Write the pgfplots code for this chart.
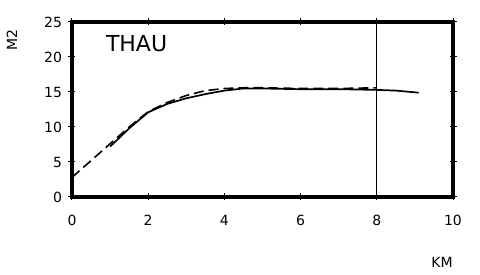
\documentclass[border=0pt]{standalone}
\usepackage{pgfplots}
\pgfplotsset{compat=1.18}
\usepackage{fontspec}
\setmainfont{DejaVu Sans}
\begin{document}
\begin{tikzpicture}[x=1pt,y=1pt]
\begin{axis}[
  at={(0,0)}, anchor=south west,
  scale only axis, width=381pt, height=175pt,
  xmin=0, xmax=10, ymin=0, ymax=25,
  xtick={0,2,...,10}, ytick={0,5,...,25},
  tick align=center, major tick length=7pt,
  axis line style={line width=3.5pt},
  every tick/.style={line width=1pt, black},
  tick label style={font=\fontsize{14}{14}\selectfont},
  /pgf/number format/assume math mode=true,
  xticklabel style={yshift=-11pt},
  yticklabel style={xshift=-3pt},
  clip=false,
]
\draw[line width=3.5pt] (rel axis cs:0,0) rectangle (rel axis cs:1,1);
\addplot[black, line width=1.6pt, dash pattern=on 10pt off 5pt] coordinates {
 (0,2.8) (0.5,5.2) (1,7.6) (1.5,10.0) (2,12.2) (2.5,13.5) (3,14.5) (3.5,15.2) (4,15.5) (4.5,15.6) (5,15.6) (6,15.5) (7,15.5) (8,15.6)};
\addplot[black, line width=1.7pt] coordinates {
 (1,7.2) (1.5,9.8) (2,12.1) (2.5,13.3) (3,14.1) (3.5,14.7) (4,15.2) (4.5,15.5) (5,15.5) (6,15.4) (7,15.4) (8,15.3) (8.5,15.2) (9.1,14.9)};
\addplot[black, line width=1pt] coordinates {(8,0) (8,25)};
\node[anchor=west, font=\fontsize{22}{22}\selectfont] at (axis cs:0.8,21.9) {THAU};
\end{axis}
\node[rotate=90, font=\fontsize{14}{14}\selectfont] at (-60pt,157pt) {M2};
\node[font=\fontsize{14}{14}\selectfont] at (370pt,-65pt) {KM};
\pgfresetboundingbox
\useasboundingbox (-72pt,-78pt) rectangle (408pt,197pt);
\end{tikzpicture}
\end{document}
